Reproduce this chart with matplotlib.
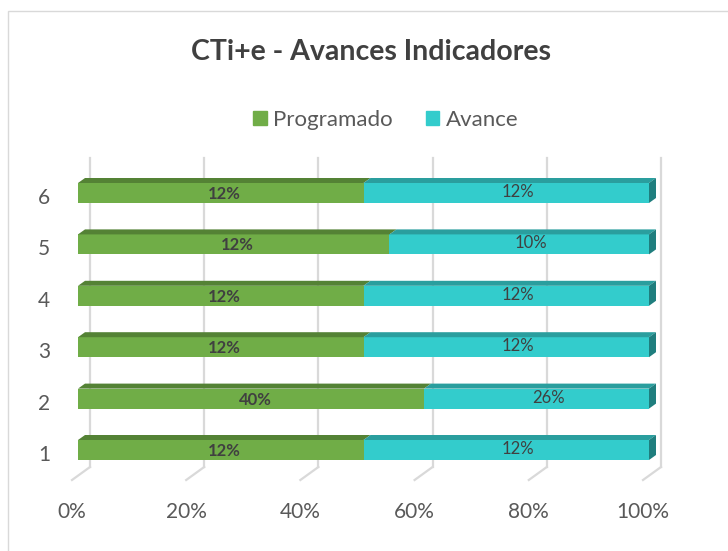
import matplotlib
matplotlib.use('Agg')
import matplotlib.pyplot as plt
from matplotlib.patches import Polygon, Rectangle
import numpy as np

plt.rcParams['font.family'] = ['Lato', 'DejaVu Sans']

categories = ['1', '2', '3', '4', '5', '6']
programado = [12, 40, 12, 12, 12, 12]
avance     = [12, 26, 12, 12, 10, 12]
xticks     = [0, 0.2, 0.4, 0.6, 0.8, 1.0]
xticklabels = ['0%', '20%', '40%', '60%', '80%', '100%']

GREEN, GREEN_TOP = '#70AD47', '#548235'
CYAN, CYAN_TOP, CYAN_SIDE = '#33CCCC', '#2A9E9E', '#1F7E7E'
GRID = '#D9D9D9'
TXT = '#595959'

W, H = 728, 551
fig = plt.figure(figsize=(W / 100, H / 100), dpi=100)

# chart frame
fig.patches.append(Rectangle((8 / W, -0.1), 1.2, 1 - 11 / H + 0.1, transform=fig.transFigure,
                             fill=False, edgecolor=GRID, lw=1))

# axes = front plane of the bars
left, right, top, bottom = 78, 649, 158, 480
ax = fig.add_axes([left / W, 1 - bottom / H, (right - left) / W, (bottom - top) / H])
step = 51.4
c1 = 450
ax.set_xlim(0, 1)
ax.set_ylim(1 - (bottom - c1) / step, 1 + (c1 - top) / step)
ax.axis('off')

px = 1 / (right - left)
py = 1 / step
def ypix(p):
    return 1 + (c1 - p) / step

# back wall gridlines + floor
floor_back, floor_front = 467, 480
for v, lab in zip(xticks, xticklabels):
    xb = v + 12 * px
    xf = v - 6 * px
    ax.plot([xb, xb], [ypix(floor_back), ypix(top)], color=GRID, lw=1.6, clip_on=False, zorder=1)
    ax.plot([xb, xf], [ypix(floor_back), ypix(floor_front)], color=GRID, lw=1.6, clip_on=False, zorder=1)
    ax.text(xf, ypix(512), lab, ha='center', va='center', fontsize=15, color=TXT)

ypos = np.arange(1, len(categories) + 1)
tot = np.array(programado) + np.array(avance)
fp = np.array(programado) / tot
bh = 20 * py
dx, dy = 7 * px, 5 * py

ax.barh(ypos, fp, height=bh, color=GREEN, zorder=3)
ax.barh(ypos, 1 - fp, left=fp, height=bh, color=CYAN, zorder=3)

for y, f, p, a in zip(ypos, fp, programado, avance):
    yt = y + bh / 2
    yb = y - bh / 2
    ax.add_patch(Polygon([(0, yt), (f, yt), (f + dx, yt + dy), (dx, yt + dy)],
                         closed=True, color=GREEN_TOP, lw=0, zorder=3, clip_on=False))
    ax.add_patch(Polygon([(f, yt), (1, yt), (1 + dx, yt + dy), (f + dx, yt + dy)],
                         closed=True, color=CYAN_TOP, lw=0, zorder=3, clip_on=False))
    ax.add_patch(Polygon([(1, yb), (1, yt), (1 + dx, yt + dy), (1 + dx, yb + dy)],
                         closed=True, color=CYAN_SIDE, lw=0, zorder=3, clip_on=False))
    ax.text(f / 2 + 4 * px, y - 1 * py, f'{p}%', ha='center', va='center', fontsize=12,
            fontweight='bold', color='#404040', zorder=5)
    ax.text((f + 1) / 2 + 12 * px, y + 1 * py, f'{a}%', ha='center', va='center', fontsize=12,
            color='#404040', zorder=5)

for y, c in zip(ypos, categories):
    ax.text(-28 * px, y - 5 * py, c, ha='right', va='center', fontsize=15, color=TXT)

fig.text(371 / W, 1 - 52 / H, 'CTi+e - Avances Indicadores', ha='center', va='center',
         fontsize=20.5, fontweight='bold', color='#404040')

handles = [Rectangle((0, 0), 1, 1, color=GREEN), Rectangle((0, 0), 1, 1, color=CYAN)]
fig.legend(handles, ['Programado', 'Avance'], loc='center', bbox_to_anchor=(386 / W, 1 - 120 / H),
           ncol=2, frameon=False, fontsize=16, labelcolor=TXT, handlelength=0.6,
           handleheight=0.6, handletextpad=0.3, columnspacing=1.5)

fig.savefig('out.png', dpi=100)
